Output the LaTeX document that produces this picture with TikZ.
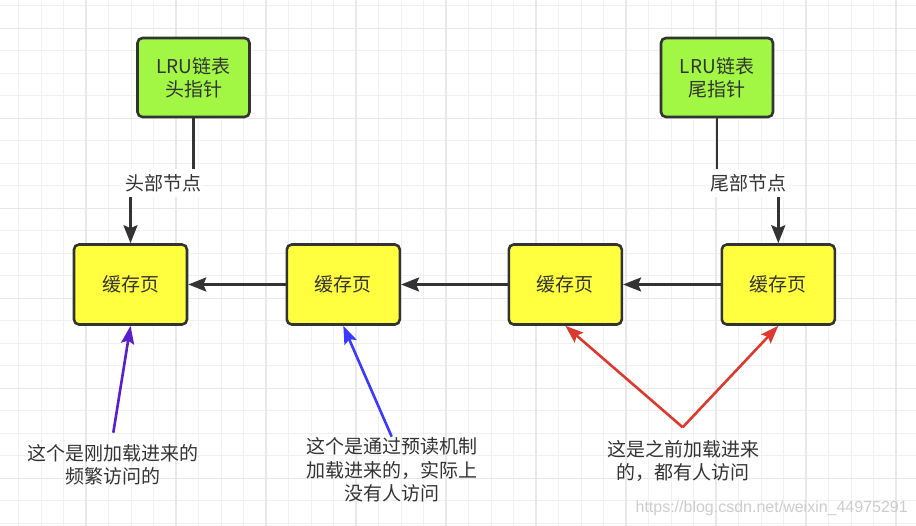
\documentclass[tikz,border=0pt]{standalone}
\usepackage{fontspec}
\setmainfont{Noto Sans CJK SC}
\newfontfamily\wmfont{Liberation Sans}
\usetikzlibrary{arrows.meta}
\definecolor{ink}{HTML}{333333}
\definecolor{gfill}{HTML}{A2F744}
\definecolor{yfill}{HTML}{FFFF40}
\definecolor{gridminor}{HTML}{F0F0F0}
\definecolor{gridmajor}{HTML}{E8E8E8}
\definecolor{apurple}{HTML}{5A1ECC}
\definecolor{ablue}{HTML}{3A3AFF}
\definecolor{ared}{HTML}{DC3A30}
\tikzset{
  txt/.style={text=ink, font=\fontsize{19}{23.3}\selectfont, align=center, inner sep=0pt},
  gbox/.style={txt, draw=ink, line width=2.6pt, rounded corners=5pt, fill=gfill, minimum width=112pt, minimum height=79pt},
  ybox/.style={txt, draw=ink, line width=2.6pt, rounded corners=5pt, fill=yfill, minimum width=113pt, minimum height=80pt},
  conn/.style={draw=ink, line width=2.6pt, -{Stealth[length=18pt, width=14pt, inset=3pt]}},
  lab/.style={txt, fill=white, inner xsep=1pt, minimum height=28pt},
  note/.style={txt},
  notearrow/.style={line width=2.6pt, -{Stealth[length=18pt, width=13pt, inset=3pt]}},
  gminor/.style={draw=gridminor, line width=1pt},
  gmajor/.style={draw=gridmajor, line width=1.1pt}
}
\begin{document}
\begin{tikzpicture}[x=1pt,y=-1pt]
\useasboundingbox (0,0) rectangle (916,526);
\fill[white] (0,0) rectangle (916,526);
% grid
\foreach \i in {0,...,40} {
  \draw[gminor] ({18.5+22.5*\i},0) -- ({18.5+22.5*\i},526);
}
\foreach \i in {0,...,23} {
  \draw[gminor] (0,{5.8+22.5*\i}) -- (916,{5.8+22.5*\i});
}
\foreach \i in {0,...,10} {
  \draw[gmajor] ({-4+90*\i},0) -- ({-4+90*\i},526);
}
\foreach \i in {0,...,5} {
  \draw[gmajor] (0,{28.3+90*\i}) -- (916,{28.3+90*\i});
}
% pointer boxes
\node[gbox] (hp) at (193.5,77.5) {LRU链表\\头指针};
\node[gbox] (tp) at (717,77.5) {LRU链表\\尾指针};
% cache pages
\node[ybox] (c1) at (130.5,284.5) {缓存页};
\node[ybox] (c2) at (343.3,284.5) {缓存页};
\node[ybox] (c3) at (565.3,284.5) {缓存页};
\node[ybox] (c4) at (778.3,284.5) {缓存页};
% head / tail connectors
\coordinate (hmid) at (163,183);
\coordinate (tmid) at (748,183);
\draw[conn] (hp.south) |- (hmid) -| (c1.north);
\draw[conn] (tp.south) |- (tmid) -| (c4.north);
\node[lab] (hlab) at (hmid) {头部节点};
\node[lab] (tlab) at (tmid) {尾部节点};
% list links
\draw[conn] (c2) -- (c1);
\draw[conn] (c3) -- (c2);
\draw[conn] (c4) -- (c3);
% notes
\node[note] (n1) at (113.3,465) {这个是刚加载进来的\\频繁访问的};
\node[note] (n2) at (392,470) {这个是通过预读机制\\加载进来的，实际上\\没有人访问};
\node[note] (n3) at (683,461.3) {这是之前加载进来\\的，都有人访问};
\coordinate (p1) at (113.3,432.7);
\coordinate (p2) at (391.7,436.7);
\coordinate (p3) at (682.7,427.3);
\draw[notearrow, draw=apurple, fill=apurple] (p1) -- (c1.south);
\draw[notearrow, draw=ablue, fill=ablue] (p2) -- (c2.south);
\draw[notearrow, draw=ared, fill=ared] (p3) -- (c3.south);
\draw[notearrow, draw=ared, fill=ared] (p3) -- (c4.south);
% watermark
\node[anchor=east, inner sep=0pt, text=black!20, font=\wmfont\fontsize{16}{16}\selectfont] (wm) at (908,508) {https://blog.csdn.net/weixin\_44975291};
\end{tikzpicture}
\end{document}
